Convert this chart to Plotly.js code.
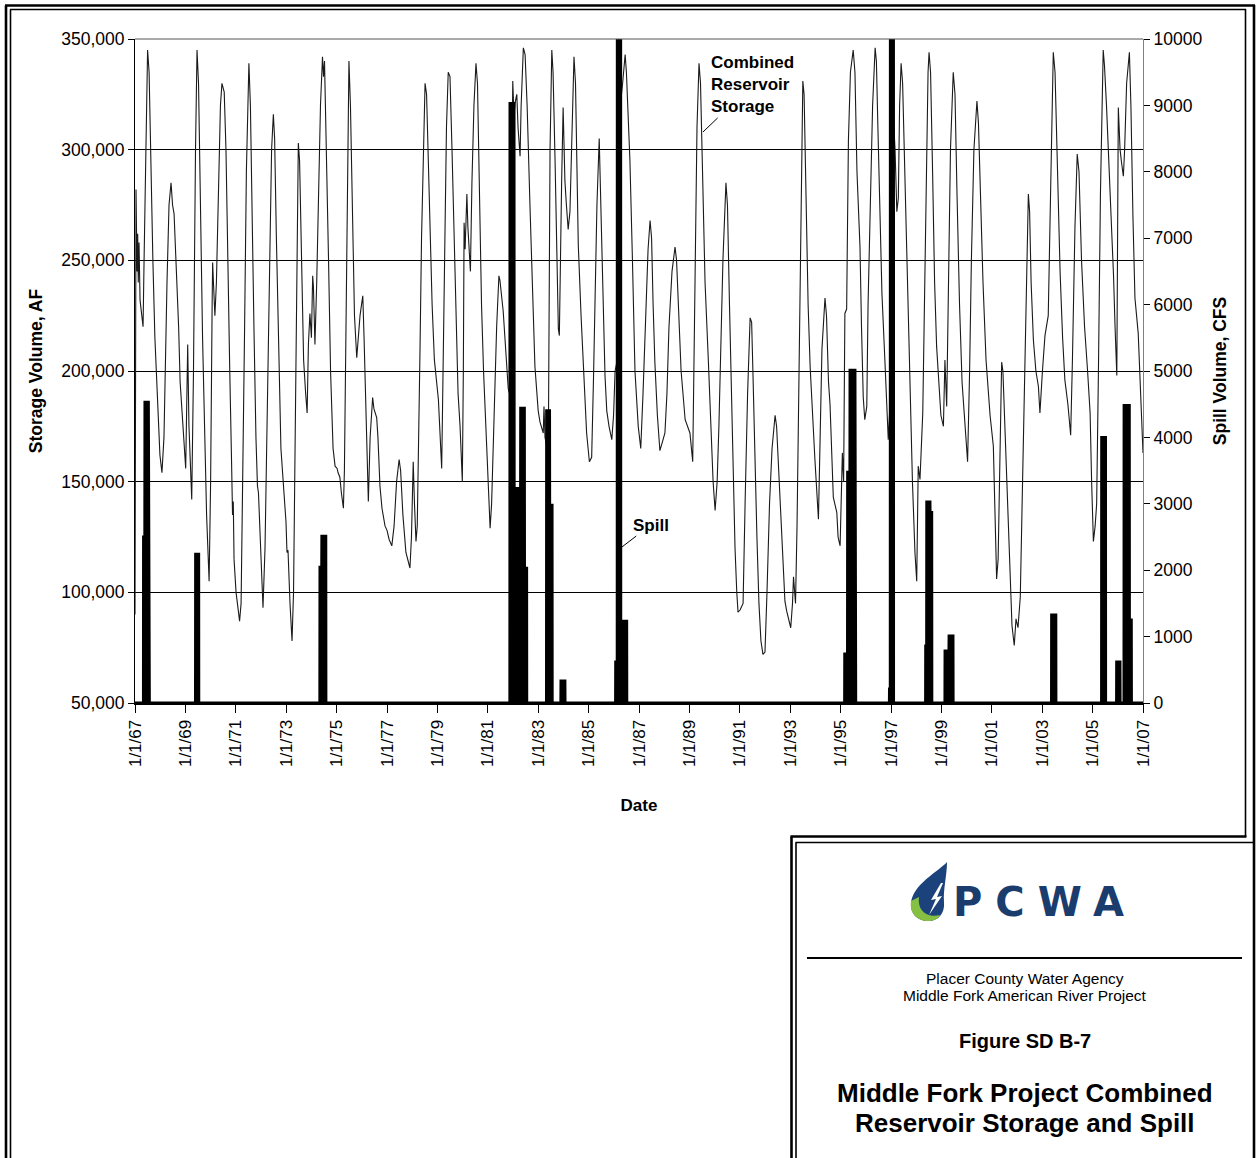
<!DOCTYPE html>
<html><head><meta charset="utf-8">
<script src="https://cdn.plot.ly/plotly-3.0.1.min.js"></script>
<style>html,body{margin:0;padding:0;background:#fff;}#chart{width:1257px;height:1158px;}</style>
</head><body><div id="chart"></div>
<script>
// ---------- DATA (decimal years) ----------
const storageYear = [
1967.00,1967.04,1967.08,1967.107,1967.13,1967.16,1967.20,1967.26,1967.32,1967.36,1967.42,1967.50,1967.56,1967.63,1967.71,1967.79,1967.89,1967.99,
1968.07,1968.15,1968.27,1968.35,1968.43,1968.49,1968.55,1968.63,1968.73,1968.79,1968.88,
1969.01,1969.09,1969.14,1969.25,1969.32,1969.40,1969.46,1969.52,1969.60,1969.68,1969.76,1969.84,1969.94,
1970.00,1970.06,1970.08,1970.12,1970.17,1970.23,1970.31,1970.39,1970.45,1970.54,1970.61,1970.69,1970.76,1970.83,1970.87,1970.90,1970.93,
1971.01,1971.15,1971.21,1971.27,1971.35,1971.42,1971.52,1971.58,1971.64,1971.72,1971.80,1971.86,1971.90,1971.98,
1972.08,1972.16,1972.24,1972.34,1972.42,1972.49,1972.54,1972.61,1972.69,1972.79,1972.91,1972.95,1972.99,
1973.03,1973.07,1973.15,1973.23,1973.29,1973.35,1973.41,1973.48,1973.53,1973.61,1973.69,1973.77,1973.83,1973.88,1973.94,
1974.00,1974.05,1974.08,1974.14,1974.21,1974.28,1974.36,1974.44,1974.48,1974.52,1974.60,1974.68,1974.76,1974.86,1974.94,
1975.02,1975.06,1975.13,1975.19,1975.27,1975.31,1975.35,1975.41,1975.46,1975.49,1975.55,1975.63,1975.71,1975.80,1975.85,1975.93,1975.99,
1976.04,1976.09,1976.17,1976.26,1976.33,1976.43,1976.48,1976.59,1976.64,1976.72,1976.80,1976.92,
1977.00,1977.08,1977.19,1977.28,1977.38,1977.48,1977.54,1977.63,1977.75,1977.83,1977.91,1977.97,
1978.04,1978.09,1978.15,1978.20,1978.25,1978.31,1978.37,1978.45,1978.51,1978.57,1978.63,1978.71,1978.79,1978.88,1978.97,
1979.04,1979.17,1979.22,1979.28,1979.36,1979.43,1979.50,1979.58,1979.66,1979.74,1979.82,1979.90,1979.99,
1980.03,1980.06,1980.10,1980.17,1980.21,1980.27,1980.31,1980.37,1980.45,1980.53,1980.59,1980.67,1980.75,1980.83,1980.89,1980.97,
1981.05,1981.09,1981.15,1981.25,1981.35,1981.44,1981.48,1981.61,1981.75,1981.81,1981.88,1981.90,1981.99,
1982.04,1982.08,1982.15,1982.20,1982.28,1982.32,1982.41,1982.48,1982.56,1982.67,1982.81,1982.87,
1983.00,1983.07,1983.20,1983.23,1983.27,1983.34,1983.40,1983.47,1983.54,1983.59,1983.67,1983.75,1983.80,1983.84,1983.90,1983.93,1983.99,
1984.06,1984.12,1984.19,1984.26,1984.34,1984.42,1984.48,1984.59,1984.70,1984.79,1984.92,
1985.03,1985.12,1985.19,1985.25,1985.33,1985.42,1985.52,1985.59,1985.65,1985.72,1985.81,1985.92,1985.99,
1986.05,1986.12,1986.19,1986.25,1986.35,1986.45,1986.50,1986.56,1986.64,1986.74,1986.84,1986.97,
1987.07,1987.16,1987.26,1987.36,1987.44,1987.50,1987.56,1987.63,1987.73,1987.83,1987.93,
1988.03,1988.11,1988.19,1988.31,1988.43,1988.49,1988.57,1988.67,1988.83,1988.94,
1989.02,1989.13,1989.18,1989.24,1989.30,1989.38,1989.44,1989.52,1989.62,1989.75,1989.86,1989.94,
1990.02,1990.10,1990.17,1990.25,1990.33,1990.45,1990.51,1990.59,1990.67,1990.74,1990.81,1990.88,1990.93,
1991.01,1991.13,1991.21,1991.31,1991.41,1991.47,1991.52,1991.60,1991.68,1991.76,1991.84,1991.92,
1992.00,1992.08,1992.18,1992.28,1992.40,1992.46,1992.52,1992.60,1992.69,1992.79,1992.86,1992.93,
1993.02,1993.09,1993.13,1993.21,1993.27,1993.35,1993.43,1993.50,1993.55,1993.63,1993.71,1993.79,1993.88,1993.98,
1994.12,1994.18,1994.26,1994.38,1994.44,1994.52,1994.58,1994.71,1994.85,1994.90,1994.98,
1995.07,1995.12,1995.17,1995.24,1995.31,1995.39,1995.50,1995.57,1995.65,1995.77,1995.83,1995.90,1995.96,
1996.04,1996.09,1996.17,1996.19,1996.27,1996.37,1996.42,1996.48,1996.56,1996.64,1996.76,1996.89,1996.96,
1997.00,1997.08,1997.16,1997.23,1997.29,1997.34,1997.40,1997.46,1997.56,1997.67,1997.75,1997.85,1997.95,
1998.02,1998.08,1998.15,1998.26,1998.33,1998.41,1998.47,1998.51,1998.57,1998.65,1998.73,1998.81,1998.90,1998.98,
1999.08,1999.14,1999.21,1999.28,1999.36,1999.47,1999.54,1999.62,1999.72,1999.82,1999.94,
2000.04,2000.12,2000.19,2000.29,2000.41,2000.47,2000.55,2000.65,2000.77,2000.93,
2001.06,2001.13,2001.19,2001.25,2001.31,2001.39,2001.44,2001.52,2001.62,2001.72,2001.80,2001.89,2001.96,
2002.04,2002.13,2002.22,2002.32,2002.45,2002.50,2002.56,2002.65,2002.75,2002.85,2002.91,
2003.01,2003.11,2003.24,2003.33,2003.44,2003.51,2003.61,2003.71,2003.81,2003.90,
2004.02,2004.10,2004.13,2004.20,2004.30,2004.39,2004.46,2004.56,2004.68,2004.80,2004.90,2004.96,
2005.03,2005.10,2005.16,2005.23,2005.31,2005.42,2005.47,2005.55,2005.63,2005.71,2005.83,2005.89,2005.96,
2006.02,2006.09,2006.15,2006.22,2006.27,2006.35,2006.46,2006.52,2006.60,2006.68,2006.81,2006.94,2007.00
];
const storageAF = [
90000,282000,245000,262000,240000,258000,232000,225000,220000,250000,300000,345000,335000,290000,250000,215000,185000,162000,
154000,170000,240000,275000,285000,275000,271000,250000,220000,195000,180000,
156000,212000,175000,142000,200000,300000,345000,330000,270000,215000,175000,135000,105000,
150000,230000,249000,238000,225000,240000,280000,320000,330000,326000,300000,240000,200000,160000,135000,141000,115000,
100000,87000,95000,140000,220000,290000,339000,320000,270000,220000,170000,148000,145000,125000,
93000,120000,180000,250000,300000,316000,305000,260000,210000,165000,145000,139000,132000,
118000,119000,95000,78000,100000,170000,250000,303000,295000,250000,205000,190000,181000,212000,226000,
215000,243000,238000,212000,240000,280000,320000,342000,333000,340000,300000,250000,200000,165000,157000,
156000,154000,152000,145000,138000,155000,200000,280000,330000,340000,320000,270000,225000,206000,215000,225000,230000,
234000,215000,175000,141000,170000,188000,183000,179000,170000,148000,138000,130000,
128000,124000,121000,130000,150000,160000,155000,135000,118000,114000,111000,125000,
159000,140000,123000,130000,160000,210000,260000,310000,330000,325000,300000,260000,230000,205000,196000,
187000,156000,200000,260000,310000,335000,333000,300000,260000,220000,190000,175000,150000,
200000,267000,255000,280000,265000,253000,245000,285000,320000,339000,330000,280000,230000,200000,181000,160000,
140000,129000,140000,180000,220000,243000,241000,227000,200000,192000,189000,230000,331000,
315000,321000,325000,310000,297000,319000,346000,343000,320000,276000,217000,202000,
182000,177000,172000,184000,170000,166000,160000,300000,345000,335000,295000,250000,219000,216000,276000,285000,319000,
286000,275000,264000,272000,310000,342000,330000,257000,225000,200000,172000,
159000,161000,195000,237000,275000,305000,257000,220000,198000,182000,175000,169000,180000,
200000,204000,260000,319000,330000,343000,335000,315000,295000,250000,200000,175000,
165000,190000,225000,255000,268000,260000,230000,204000,180000,164000,168000,
172000,190000,220000,245000,256000,250000,225000,200000,178000,175000,
172000,159000,200000,260000,310000,339000,330000,290000,240000,205000,175000,150000,
137000,150000,175000,215000,250000,285000,275000,230000,190000,157000,120000,100000,91000,
92000,95000,140000,190000,224000,222000,200000,160000,125000,95000,78000,72000,
73000,100000,140000,165000,180000,175000,160000,140000,115000,96000,91500,88000,
84000,95000,107000,95000,130000,200000,280000,331000,325000,280000,230000,202000,180000,160000,
133000,170000,210000,233000,225000,195000,185000,143000,136000,125000,121000,
163000,150000,226000,228000,304000,335000,345000,335000,290000,256000,220000,188000,178000,
184000,230000,277000,275000,320000,346000,340000,310000,270000,235000,204000,169000,185000,
280000,318000,300000,272000,278000,320000,339000,330000,280000,232000,192000,150000,118000,
105000,157000,151000,181000,240000,300000,335000,344000,335000,290000,240000,211000,195000,180000,
175000,205000,184000,240000,300000,335000,325000,280000,230000,195000,177000,
159000,200000,250000,300000,322000,312000,280000,240000,205000,180000,
166000,135000,106000,115000,160000,204000,200000,173000,140000,105000,85000,76000,88000,
84000,98000,150000,215000,280000,272000,240000,214000,200000,193000,181000,
200000,216000,225000,280000,344000,335000,290000,245000,215000,196000,
185000,176000,171000,205000,265000,298000,290000,250000,220000,200000,181000,150000,
123000,130000,140000,200000,280000,345000,338000,320000,300000,280000,243000,220000,198000,
319000,300000,294000,288000,300000,330000,344000,320000,270000,233000,217000,178000,163000
];
const spillYear = [
1967.00,1967.335,1967.34,1967.39,1967.395,1967.53,1967.57,
1969.40,1969.405,1969.525,1969.53,
1974.335,1974.34,1974.41,1974.415,1974.57,1974.575,
1981.875,1981.88,1982.04,1982.045,1982.21,1982.215,1982.30,1982.305,1982.45,1982.455,1982.54,1982.545,
1983.33,1983.335,1983.45,1983.455,1983.55,1983.555,
1983.90,1983.905,1984.06,1984.065,
1986.07,1986.075,1986.135,1986.14,1986.27,1986.275,1986.51,1986.515,
1995.16,1995.165,1995.275,1995.28,1995.37,1995.375,1995.57,1995.60,
1996.935,1996.94,1996.97,1996.975,1997.095,1997.10,
1998.372,1998.377,1998.415,1998.42,1998.545,1998.55,1998.615,1998.62,
1999.14,1999.145,1999.30,1999.305,1999.46,1999.465,
2003.37,2003.375,2003.54,2003.545,
2005.355,2005.36,2005.51,2005.515,
2005.95,2005.955,2006.085,2006.09,
2006.245,2006.25,2006.455,2006.46,2006.535,2006.54,2007.00
];
const spillCFS = [
0,0,2500,2500,4530,4530,0,
0,2240,2240,0,
0,2045,2045,2510,2510,0,
0,9030,9030,3230,3230,2950,2950,4440,4440,2030,2030,0,
0,4400,4400,2980,2980,0,
0,330,330,0,
0,617,617,12000,12000,1233,1233,0,
0,737,737,3474,3474,5013,5013,0,
0,211,211,12000,12000,0,
0,857,857,3028,3028,2870,2870,0,
0,782,782,1008,1008,0,
0,1324,1324,0,
0,4000,4000,0,
0,617,617,0,
0,4480,4480,1250,1250,0,0
];
const tickYears = [1967,1969,1971,1973,1975,1977,1979,1981,1983,1985,1987,1989,1991,1993,1995,1997,1999,2001,2003,2005,2007];
const tickLabels = ['1/1/67','1/1/69','1/1/71','1/1/73','1/1/75','1/1/77','1/1/79','1/1/81','1/1/83','1/1/85','1/1/87','1/1/89','1/1/91','1/1/93','1/1/95','1/1/97','1/1/99','1/1/01','1/1/03','1/1/05','1/1/07'];

// ---------- helpers ----------
function toDate(d){
  const y = Math.floor(d), f = d - y;
  const s = Date.UTC(y,0,1), e = Date.UTC(y+1,0,1);
  return new Date(s + f*(e-s)).toISOString().slice(0,19).replace('T',' ');
}
const W=1257, H=1158, L=135, R=1143, T=39, B=703;
const PW=R-L, PH=B-T;
const px = x => (x-L)/PW;
const py = y => 1-(y-T)/PH;
function pathPx(str){
  const tk = str.trim().split(/\s+/); let out=[]; let isX=true;
  for(const t of tk){
    if(/^[A-Za-z]$/.test(t)){ out.push(t); isX=true; }
    else { const v=parseFloat(t); out.push(isX? px(v).toFixed(5) : py(v).toFixed(5)); isX=!isX; }
  }
  return out.join(' ');
}
function line(x0,y0,x1,y1,w,c){
  return {type:'line',xref:'paper',yref:'paper',x0:px(x0),y0:py(y0),x1:px(x1),y1:py(y1),line:{color:c||'#000',width:w}};
}

const FONT = 'Liberation Sans, Arial, Helvetica, sans-serif';

const storageTrace = {
  x: storageYear.map(toDate), y: storageAF, type:'scatter', mode:'lines',
  line:{color:'#1a1a1a', width:1.1}, yaxis:'y', hoverinfo:'skip'
};
const spillTrace = {
  x: spillYear.map(toDate), y: spillCFS, type:'scatter', mode:'lines',
  line:{color:'#000', width:3}, fill:'tozeroy', fillcolor:'#000', yaxis:'y2', hoverinfo:'skip'
};

const shapes = [
  line(L, T, R, T, 1, '#555'),
  line(6, 5.5, 6, 1170, 2.6),
  line(5, 5.5, 1255, 5.5, 2.6),
  line(1254, 5, 1254, 1170, 2.6),
  line(10.5, 9.5, 10.5, 1170, 1.6),
  line(10, 9.5, 1246, 9.5, 1.6),
  line(1245.5, 9, 1245.5, 836.5, 1.6),
  line(791.5, 836.5, 791.5, 1170, 2.6),
  line(790.5, 836.5, 1246.5, 836.5, 2.6),
  line(796, 842.5, 796, 1170, 1.6),
  line(795.5, 842.5, 1254, 842.5, 1.6),
  line(807, 958, 1242, 958, 2),
  {type:'path', xref:'paper', yref:'paper', line:{width:0}, fillcolor:'#1b427a',
   path: pathPx('M 947 862 C 938 872 913 884 911 903 C 910 914 918 921 928 921 C 939 921 945 913 944 902 C 943 890 947 875 947 862 Z')},
  {type:'path', xref:'paper', yref:'paper', line:{width:0}, fillcolor:'#86c043',
   path: pathPx('M 911 901 C 909 914 918 921 928 921 C 934 921 938 919 940 915 C 930 918 917 913 919 897 Z')},
  {type:'path', xref:'paper', yref:'paper', line:{width:0}, fillcolor:'#ffffff',
   path: pathPx('M 941 883 L 931 900 L 936 899 L 929 915 L 942 896 L 937 897 L 943 883 Z')}
];

const annotations = [
  {x: toDate(1989.54), y: 308000, xref:'x', yref:'y', text:'<b>Combined<br>Reservoir<br>Storage</b>',
   align:'left', showarrow:true, arrowhead:0, arrowwidth:1, arrowcolor:'#000', ax:49, ay:-47,
   font:{family:FONT, size:17, color:'#000'}},
  {x: toDate(1986.27), y: 2334, xref:'x', yref:'y2', text:'<b>Spill</b>',
   showarrow:true, arrowhead:0, arrowwidth:1, arrowcolor:'#000', ax:30, ay:-23,
   font:{family:FONT, size:17, color:'#000'}},
  {x: px(1045), y: py(901.5), xref:'paper', yref:'paper', xanchor:'center', yanchor:'middle', showarrow:false,
   text:'<b><span style="letter-spacing:13px">PCWA</span></b>', font:{family:'DejaVu Sans, sans-serif', size:40, color:'#1b3d6e'}},
  {x: px(1025), y: py(978), xref:'paper', yref:'paper', xanchor:'center', yanchor:'middle', showarrow:false,
   text:'Placer County Water Agency', font:{family:FONT, size:15.5, color:'#000'}},
  {x: px(1025), y: py(995.5), xref:'paper', yref:'paper', xanchor:'center', yanchor:'middle', showarrow:false,
   text:'Middle Fork American River Project', font:{family:FONT, size:15.5, color:'#000'}},
  {x: px(1025), y: py(1041), xref:'paper', yref:'paper', xanchor:'center', yanchor:'middle', showarrow:false,
   text:'<b>Figure SD B-7</b>', font:{family:FONT, size:20, color:'#000'}},
  {x: px(1025), y: py(1092.5), xref:'paper', yref:'paper', xanchor:'center', yanchor:'middle', showarrow:false,
   text:'<b>Middle Fork Project Combined</b>', font:{family:FONT, size:26, color:'#000'}},
  {x: px(1025), y: py(1122.5), xref:'paper', yref:'paper', xanchor:'center', yanchor:'middle', showarrow:false,
   text:'<b>Reservoir Storage and Spill</b>', font:{family:FONT, size:26, color:'#000'}}
];

const layout = {
  width:W, height:H,
  margin:{l:L, r:W-R, t:T, b:H-B, pad:0},
  paper_bgcolor:'#fff', plot_bgcolor:'#fff', showlegend:false,
  font:{family:FONT, size:17, color:'#000'},
  xaxis:{
    type:'date', range:[toDate(1967), toDate(2007)],
    tickmode:'array', tickvals: tickYears.map(toDate), ticktext: tickLabels,
    tickangle:-90, ticks:'outside', ticklen:8, tickcolor:'#000', tickwidth:1,
    showgrid:false, zeroline:false, showline:true, linecolor:'#000', linewidth:2,
    tickfont:{family:FONT, size:17, color:'#000'},
    title:{text:'<b>Date</b>', standoff:33, font:{family:FONT, size:17, color:'#000'}}
  },
  yaxis:{
    range:[50000,350000], tick0:50000, dtick:50000, tickformat:',d',
    ticks:'outside', ticklen:6, tickcolor:'#000',
    showgrid:true, gridcolor:'#000', gridwidth:1,
    zeroline:false, showline:true, linecolor:'#000', linewidth:1,
    tickfont:{family:FONT, size:17.5, color:'#000'},
    title:{text:'<b>Storage Volume, AF</b>', standoff:14, font:{family:FONT, size:17.5, color:'#000'}}
  },
  yaxis2:{
    range:[0,10000], tick0:0, dtick:1000, tickformat:'d', overlaying:'y', side:'right',
    ticks:'outside', ticklen:6, tickcolor:'#000',
    showgrid:false, zeroline:false, showline:true, linecolor:'#808080', linewidth:1,
    tickfont:{family:FONT, size:17.5, color:'#000'},
    title:{text:'<b>Spill Volume, CFS</b>', standoff:12, font:{family:FONT, size:17.5, color:'#000'}}
  },
  shapes: shapes,
  annotations: annotations
};

Plotly.newPlot('chart', [storageTrace, spillTrace], layout, {staticPlot:true, displayModeBar:false});
</script></body></html>
